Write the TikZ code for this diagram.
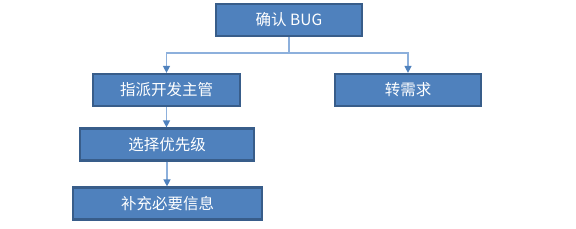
\documentclass[tikz,border=0pt]{standalone}
\usepackage{fontspec}
\setmainfont{Noto Sans CJK SC}
\usetikzlibrary{arrows.meta}
\definecolor{boxfill}{HTML}{4F81BD}
\definecolor{boxline}{HTML}{385D8A}
\definecolor{linkline}{HTML}{8DB0DC}
\begin{document}
\begin{tikzpicture}[x=1pt, y=-1pt, thick,
    stepbox/.style={draw=boxline, line width=2.2pt, fill=boxfill, text=white,
      minimum height=32pt, inner sep=0pt, font=\fontsize{15.5}{18}\selectfont},
    link/.style={draw=linkline, line width=1.3pt,
      -{Triangle[length=7pt, width=7pt, fill=boxfill, color=boxfill]}}]
    \useasboundingbox (0,0) rectangle (576,228);
    % Boxes
    \node[stepbox, minimum width=146pt] (confirm) at (289,20) {确认 BUG};
    \node[stepbox, minimum width=147pt] (assign) at (166.5,90) {指派开发主管};
    \node[stepbox, minimum width=146pt] (toreq) at (408,90) {转需求};
    \node[stepbox, minimum width=174pt] (priority) at (167,144.5) {选择优先级};
    \node[stepbox, minimum width=189pt] (supplement) at (167.5,203.5) {补充必要信息};
    
    % Branch point
    \coordinate (split) at (289,53);
    
    % Links
    \draw[link] (confirm.south) -- (split) -| (assign.north);
    \draw[link] (split) -| (toreq.north);
    \draw[link] (assign.south) -- (assign.south |- priority.north);
    \draw[link] (priority.south) -- (priority.south |- supplement.north);
\end{tikzpicture}
\end{document}
